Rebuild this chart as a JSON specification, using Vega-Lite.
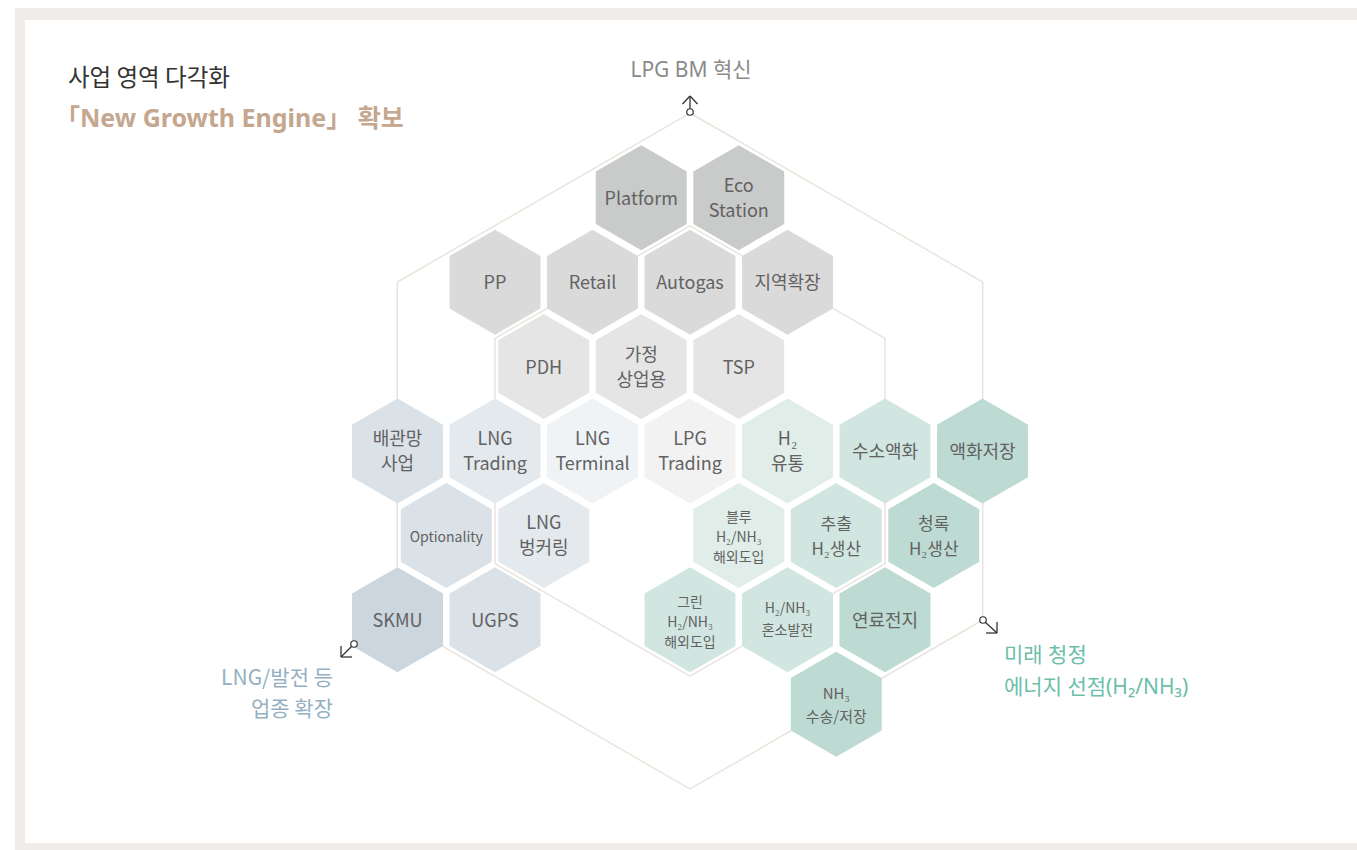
{
  "$schema": "https://vega.github.io/schema/vega-lite/v6.json",
  "width": 1357,
  "height": 850,
  "autosize": {"type": "fit", "contains": "padding"},
  "padding": 0,
  "background": "#ffffff",
  "config": {"view": {"stroke": null}, "font": "Noto Sans CJK KR"},
  "datasets": {
    "frame": [
      {"part": "outer", "x": 15, "x2": 1357, "y": 8, "y2": 850},
      {"part": "inner", "x": 25, "x2": 1357, "y": 20, "y2": 843}
    ],
    "rings": [
      {"ring": "outer", "x": 690, "y": 451},
      {"ring": "inner", "x": 690, "y": 451}
    ],
    "hexes": [
      {"id": "Platform", "label": "Platform", "x": 641.25, "y": 197.7, "tone": "lpg1"},
      {"id": "Eco", "label": "Eco\nStation", "x": 738.75, "y": 197.7, "tone": "lpg1"},
      {"id": "PP", "label": "PP", "x": 495, "y": 282.2, "tone": "lpg2"},
      {"id": "Retail", "label": "Retail", "x": 592.5, "y": 282.2, "tone": "lpg2"},
      {"id": "Autogas", "label": "Autogas", "x": 690, "y": 282.2, "tone": "lpg2"},
      {"id": "지역확장", "label": "지역확장", "x": 787.5, "y": 282.2, "tone": "lpg2"},
      {"id": "PDH", "label": "PDH", "x": 543.75, "y": 366.6, "tone": "lpg3"},
      {"id": "가정", "label": "가정\n상업용", "x": 641.25, "y": 366.6, "tone": "lpg3"},
      {"id": "TSP", "label": "TSP", "x": 738.75, "y": 366.6, "tone": "lpg3"},
      {"id": "배관망", "label": "배관망\n사업", "x": 397.5, "y": 451, "tone": "lng2"},
      {"id": "LNGTrading", "label": "LNG\nTrading", "x": 495, "y": 451, "tone": "lng3"},
      {"id": "LNGTerminal", "label": "LNG\nTerminal", "x": 592.5, "y": 451, "tone": "lng4"},
      {"id": "LPGTrading", "label": "LPG\nTrading", "x": 690, "y": 451, "tone": "lpg4"},
      {"id": "H2유통", "label": "H₂\n유통", "x": 787.5, "y": 451, "tone": "h1"},
      {"id": "수소액화", "label": "수소액화", "x": 885, "y": 451, "tone": "h2"},
      {"id": "액화저장", "label": "액화저장", "x": 982.5, "y": 451, "tone": "h3"},
      {"id": "Optionality", "label": "Optionality", "x": 446.25, "y": 535.4, "tone": "lng2"},
      {"id": "벙커링", "label": "LNG\n벙커링", "x": 543.75, "y": 535.4, "tone": "lng3"},
      {"id": "블루", "label": "블루\nH₂/NH₃\n해외도입", "x": 738.75, "y": 535.4, "tone": "h1"},
      {"id": "추출", "label": "추출\nH₂생산", "x": 836.25, "y": 535.4, "tone": "h2"},
      {"id": "청록", "label": "청록\nH₂생산", "x": 933.75, "y": 535.4, "tone": "h3"},
      {"id": "SKMU", "label": "SKMU", "x": 397.5, "y": 619.8, "tone": "lng1"},
      {"id": "UGPS", "label": "UGPS", "x": 495, "y": 619.8, "tone": "lng2"},
      {"id": "그린", "label": "그린\nH₂/NH₃\n해외도입", "x": 690, "y": 619.8, "tone": "h2"},
      {"id": "혼소", "label": "H₂/NH₃\n혼소발전", "x": 787.5, "y": 619.8, "tone": "h2"},
      {"id": "연료전지", "label": "연료전지", "x": 885, "y": 619.8, "tone": "h3"},
      {"id": "NH3", "label": "NH₃\n수송/저장", "x": 836.25, "y": 704.3, "tone": "h3"}
    ],
    "segs": [
      {"x": 690, "y": 113, "x2": 690, "y2": 96},
      {"x": 690, "y": 96, "x2": 682.5, "y2": 104},
      {"x": 690, "y": 96, "x2": 697.5, "y2": 104},
      {"x": 353, "y": 645, "x2": 341, "y2": 657},
      {"x": 341, "y": 657, "x2": 341, "y2": 646},
      {"x": 341, "y": 657, "x2": 352, "y2": 657},
      {"x": 984, "y": 621, "x2": 997, "y2": 633},
      {"x": 997, "y": 633, "x2": 997, "y2": 622},
      {"x": 997, "y": 633, "x2": 986, "y2": 633}
    ],
    "knobs": [
      {"x": 690, "y": 112},
      {"x": 354, "y": 644},
      {"x": 983, "y": 620}
    ],
    "notes": [
      {"id": "t1", "text": "사업 영역 다각화", "x": 68, "y": 79},
      {"id": "t2", "text": "「New Growth Engine」 확보", "x": 55, "y": 119},
      {"id": "lpg", "text": "LPG BM 혁신", "x": 691, "y": 71},
      {"id": "lng", "text": "LNG/발전 등\n업종 확장", "x": 333, "y": 679},
      {"id": "h2", "text": "미래 청정\n에너지 선점(H₂/NH₃)", "x": 1004, "y": 656}
    ]
  },
  "layer": [
    {
      "data": {"name": "frame"},
      "transform": [{"filter": "datum.part === 'outer'"}],
      "mark": {"type": "rect", "fill": "#f0ece9"},
      "encoding": {
        "x": {"field": "x", "type": "quantitative", "scale": {"domain": [0, 1357], "nice": false, "zero": false}, "axis": null},
        "x2": {"field": "x2"},
        "y": {"field": "y", "type": "quantitative", "scale": {"domain": [0, 850], "nice": false, "zero": false, "reverse": true}, "axis": null},
        "y2": {"field": "y2"}
      }
    },
    {
      "data": {"name": "frame"},
      "transform": [{"filter": "datum.part === 'inner'"}],
      "mark": {"type": "rect", "fill": "#ffffff"},
      "encoding": {
        "x": {"field": "x", "type": "quantitative"},
        "x2": {"field": "x2"},
        "y": {"field": "y", "type": "quantitative"},
        "y2": {"field": "y2"}
      }
    },
    {
      "data": {"name": "rings"},
      "transform": [{"filter": "datum.ring === 'outer'"}],
      "mark": {"type": "point", "shape": "M0,-1L0.8660254,-0.5L0.8660254,0.5L0,1L-0.8660254,0.5L-0.8660254,-0.5Z", "filled": false, "stroke": "#ebe4dd", "strokeWidth": 1.5, "opacity": 1, "size": 456976},
      "encoding": {
        "x": {"field": "x", "type": "quantitative"},
        "y": {"field": "y", "type": "quantitative"}
      }
    },
    {
      "data": {"name": "rings"},
      "transform": [{"filter": "datum.ring === 'inner'"}],
      "mark": {"type": "point", "shape": "M0,-1L0.8660254,-0.5L0.8660254,0.5L0,1L-0.8660254,0.5L-0.8660254,-0.5Z", "filled": false, "stroke": "#ebe4dd", "strokeWidth": 1.5, "opacity": 1, "size": 202860},
      "encoding": {
        "x": {"field": "x", "type": "quantitative"},
        "y": {"field": "y", "type": "quantitative"}
      }
    },
    {
      "data": {"name": "hexes"},
      "mark": {"type": "point", "shape": "M0,-1L0.8660254,-0.5L0.8660254,0.5L0,1L-0.8660254,0.5L-0.8660254,-0.5Z", "filled": true, "opacity": 1, "strokeWidth": 0, "size": 11025},
      "encoding": {
        "x": {"field": "x", "type": "quantitative"},
        "y": {"field": "y", "type": "quantitative"},
        "color": {
          "field": "tone", "type": "nominal", "legend": null,
          "scale": {
            "domain": ["lpg1", "lpg2", "lpg3", "lpg4", "lng1", "lng2", "lng3", "lng4", "h1", "h2", "h3"],
            "range": ["#c9caca", "#dadada", "#e5e5e5", "#f2f2f2", "#cbd6de", "#dae1e7", "#e4e9ee", "#eff3f6", "#e0ede9", "#d1e6e0", "#bddad3"]
          }
        }
      }
    },
    {
      "data": {"name": "hexes"},
      "transform": [{"filter": {"field": "id", "oneOf": ["Platform", "PP", "Retail", "Autogas", "지역확장", "PDH", "TSP", "수소액화", "액화저장", "SKMU", "UGPS", "연료전지"]}}],
      "mark": {"type": "text", "fontSize": 18, "dy": 2, "fill": "#626262", "align": "center", "baseline": "middle"},
      "encoding": {
        "x": {"field": "x", "type": "quantitative"},
        "y": {"field": "y", "type": "quantitative"},
        "text": {"field": "label", "type": "nominal"}
      }
    },
    {
      "data": {"name": "hexes"},
      "transform": [{"filter": {"field": "id", "oneOf": ["Eco", "가정", "배관망", "LNGTrading", "LNGTerminal", "LPGTrading", "H2유통", "벙커링"]}}],
      "mark": {"type": "text", "fontSize": 18, "lineHeight": 25, "lineBreak": "\n", "dy": -11, "fill": "#626262", "align": "center", "baseline": "middle"},
      "encoding": {
        "x": {"field": "x", "type": "quantitative"},
        "y": {"field": "y", "type": "quantitative"},
        "text": {"field": "label", "type": "nominal"}
      }
    },
    {
      "data": {"name": "hexes"},
      "transform": [{"filter": {"field": "id", "oneOf": ["추출", "청록"]}}],
      "mark": {"type": "text", "fontSize": 17, "lineHeight": 25, "lineBreak": "\n", "dy": -10, "fill": "#626262", "align": "center", "baseline": "middle"},
      "encoding": {
        "x": {"field": "x", "type": "quantitative"},
        "y": {"field": "y", "type": "quantitative"},
        "text": {"field": "label", "type": "nominal"}
      }
    },
    {
      "data": {"name": "hexes"},
      "transform": [{"filter": {"field": "id", "oneOf": ["Optionality"]}}],
      "mark": {"type": "text", "fontSize": 14, "dy": 3, "fill": "#626262", "align": "center", "baseline": "middle"},
      "encoding": {
        "x": {"field": "x", "type": "quantitative"},
        "y": {"field": "y", "type": "quantitative"},
        "text": {"field": "label", "type": "nominal"}
      }
    },
    {
      "data": {"name": "hexes"},
      "transform": [{"filter": {"field": "id", "oneOf": ["블루", "그린"]}}],
      "mark": {"type": "text", "fontSize": 14, "lineHeight": 20, "lineBreak": "\n", "dy": -17, "fill": "#626262", "align": "center", "baseline": "middle"},
      "encoding": {
        "x": {"field": "x", "type": "quantitative"},
        "y": {"field": "y", "type": "quantitative"},
        "text": {"field": "label", "type": "nominal"}
      }
    },
    {
      "data": {"name": "hexes"},
      "transform": [{"filter": {"field": "id", "oneOf": ["혼소"]}}],
      "mark": {"type": "text", "fontSize": 14, "lineHeight": 22, "lineBreak": "\n", "dy": -11, "fill": "#626262", "align": "center", "baseline": "middle"},
      "encoding": {
        "x": {"field": "x", "type": "quantitative"},
        "y": {"field": "y", "type": "quantitative"},
        "text": {"field": "label", "type": "nominal"}
      }
    },
    {
      "data": {"name": "hexes"},
      "transform": [{"filter": {"field": "id", "oneOf": ["NH3"]}}],
      "mark": {"type": "text", "fontSize": 15, "lineHeight": 23, "lineBreak": "\n", "dy": -10, "fill": "#626262", "align": "center", "baseline": "middle"},
      "encoding": {
        "x": {"field": "x", "type": "quantitative"},
        "y": {"field": "y", "type": "quantitative"},
        "text": {"field": "label", "type": "nominal"}
      }
    },
    {
      "data": {"name": "segs"},
      "mark": {"type": "rule", "stroke": "#333333", "strokeWidth": 1.3},
      "encoding": {
        "x": {"field": "x", "type": "quantitative"},
        "y": {"field": "y", "type": "quantitative"},
        "x2": {"field": "x2"},
        "y2": {"field": "y2"}
      }
    },
    {
      "data": {"name": "knobs"},
      "mark": {"type": "point", "shape": "circle", "filled": true, "fill": "#ffffff", "stroke": "#333333", "strokeWidth": 1.2, "opacity": 1, "size": 42},
      "encoding": {
        "x": {"field": "x", "type": "quantitative"},
        "y": {"field": "y", "type": "quantitative"}
      }
    },
    {
      "data": {"name": "notes"},
      "transform": [{"filter": "datum.id === 't1'"}],
      "mark": {"type": "text", "fontSize": 23.5, "fill": "#333333", "align": "left", "baseline": "middle"},
      "encoding": {
        "x": {"field": "x", "type": "quantitative"},
        "y": {"field": "y", "type": "quantitative"},
        "text": {"field": "text", "type": "nominal"}
      }
    },
    {
      "data": {"name": "notes"},
      "transform": [{"filter": "datum.id === 't2'"}],
      "mark": {"type": "text", "font": "Noto Sans, Noto Sans CJK KR", "fontSize": 25, "fontWeight": "bold", "fill": "#c5a68e", "align": "left", "baseline": "middle"},
      "encoding": {
        "x": {"field": "x", "type": "quantitative"},
        "y": {"field": "y", "type": "quantitative"},
        "text": {"field": "text", "type": "nominal"}
      }
    },
    {
      "data": {"name": "notes"},
      "transform": [{"filter": "datum.id === 'lpg'"}],
      "mark": {"type": "text", "font": "Noto Sans, Noto Sans CJK KR", "fontSize": 21, "fill": "#8a8a8a", "align": "center", "baseline": "middle"},
      "encoding": {
        "x": {"field": "x", "type": "quantitative"},
        "y": {"field": "y", "type": "quantitative"},
        "text": {"field": "text", "type": "nominal"}
      }
    },
    {
      "data": {"name": "notes"},
      "transform": [{"filter": "datum.id === 'lng'"}],
      "mark": {"type": "text", "fontSize": 21, "lineHeight": 31, "lineBreak": "\n", "fill": "#95b0c1", "align": "right", "baseline": "middle"},
      "encoding": {
        "x": {"field": "x", "type": "quantitative"},
        "y": {"field": "y", "type": "quantitative"},
        "text": {"field": "text", "type": "nominal"}
      }
    },
    {
      "data": {"name": "notes"},
      "transform": [{"filter": "datum.id === 'h2'"}],
      "mark": {"type": "text", "font": "Noto Sans, Noto Sans CJK KR", "fontSize": 21, "lineHeight": 32, "lineBreak": "\n", "fill": "#6cbfa8", "align": "left", "baseline": "middle"},
      "encoding": {
        "x": {"field": "x", "type": "quantitative"},
        "y": {"field": "y", "type": "quantitative"},
        "text": {"field": "text", "type": "nominal"}
      }
    }
  ]
}
